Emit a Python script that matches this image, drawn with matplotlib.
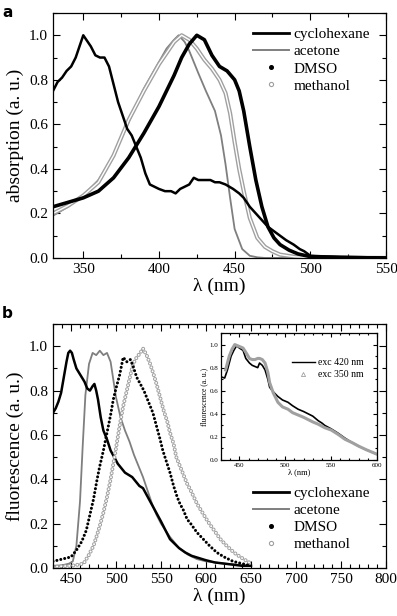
import numpy as np
import matplotlib.pyplot as plt
from matplotlib.lines import Line2D
from matplotlib.ticker import MultipleLocator

plt.rcParams['font.family'] = ['Liberation Serif', 'DejaVu Serif']

# ---- panel a: absorption ----
cyc_a_x = [330, 333, 336, 339, 342, 345, 348, 350, 352, 355, 358, 361, 364, 367, 370, 373, 376, 379, 382,
           385, 388, 391, 394, 397, 400, 404, 408, 411, 414, 417, 420, 423, 426, 430, 434, 437, 440, 444,
           449, 453, 456, 460, 464, 468, 472, 476, 480, 484, 489, 493, 496, 500, 510, 520, 530, 540, 550]
cyc_a_y = [0.75, 0.79, 0.81, 0.84, 0.86, 0.90, 0.96, 1.00, 0.98, 0.95, 0.91, 0.90, 0.90, 0.86, 0.78, 0.70,
           0.64, 0.58, 0.55, 0.50, 0.45, 0.38, 0.33, 0.32, 0.31, 0.30, 0.30, 0.29, 0.31, 0.32, 0.33, 0.36,
           0.35, 0.35, 0.35, 0.34, 0.34, 0.33, 0.31, 0.29, 0.27, 0.23, 0.20, 0.17, 0.14, 0.12, 0.10, 0.08,
           0.06, 0.04, 0.03, 0.01, 0.007, 0.005, 0.004, 0.003, 0.002]

ace_a_x = [330, 340, 350, 360, 370, 380, 390, 400, 405, 410, 413, 417, 420, 426, 431, 437, 441, 444, 447,
           450, 455, 460, 465, 470, 500, 550]
ace_a_y = [0.19, 0.23, 0.28, 0.35, 0.46, 0.61, 0.76, 0.88, 0.94, 0.98, 1.00, 0.97, 0.93, 0.83, 0.75, 0.66,
           0.55, 0.42, 0.27, 0.13, 0.04, 0.01, 0.003, 0.0, 0.0, 0.0]

dmso_a_x = [330, 340, 350, 360, 370, 380, 390, 400, 405, 410, 415, 420, 425, 430, 435, 440, 445, 450, 453,
            456, 460, 464, 468, 472, 476, 480, 486, 492, 500, 520, 550]
dmso_a_y = [0.23, 0.25, 0.27, 0.30, 0.36, 0.45, 0.56, 0.68, 0.75, 0.82, 0.90, 0.96, 1.00, 0.98, 0.91, 0.86,
            0.84, 0.80, 0.75, 0.66, 0.50, 0.35, 0.23, 0.14, 0.09, 0.06, 0.035, 0.018, 0.006, 0.002, 0.0]

met_a_x = [330, 340, 350, 360, 370, 380, 390, 400, 405, 410, 415, 420, 425, 430, 435, 440, 444, 447, 450,
           453, 456, 460, 465, 470, 475, 480, 490, 500, 550]
met_a_y = [0.20, 0.235, 0.28, 0.34, 0.46, 0.62, 0.75, 0.87, 0.92, 0.97, 1.00, 0.98, 0.94, 0.89, 0.85, 0.80,
           0.74, 0.65, 0.52, 0.40, 0.30, 0.18, 0.09, 0.05, 0.03, 0.015, 0.005, 0.002, 0.0]

# ---- panel b: fluorescence ----
cyc_b_x = [430, 433, 436, 439, 442, 445, 447, 449, 451, 453, 456, 459, 462, 465, 468, 471, 474, 476, 478,
           480, 483, 486, 490, 494, 498, 502, 506, 510, 514, 518, 522, 526, 530, 534, 538, 542, 546, 550,
           555, 560, 565, 570, 577, 584, 592, 600, 610, 620, 630, 640, 650]
cyc_b_y = [0.70, 0.72, 0.75, 0.79, 0.86, 0.93, 0.97, 0.98, 0.97, 0.94, 0.90, 0.88, 0.86, 0.84, 0.81, 0.80,
           0.82, 0.83, 0.80, 0.76, 0.68, 0.62, 0.58, 0.53, 0.50, 0.47, 0.45, 0.43, 0.42, 0.41, 0.39, 0.37,
           0.36, 0.33, 0.30, 0.27, 0.24, 0.21, 0.17, 0.13, 0.11, 0.09, 0.07, 0.055, 0.045, 0.035, 0.025,
           0.02, 0.015, 0.01, 0.01]

ace_b_x = [430, 440, 448, 452, 456, 460, 463, 466, 470, 474, 478, 482, 486, 490, 494, 497, 500, 505, 510,
           515, 520, 525, 530, 535, 540, 545, 550, 560, 570, 580, 590, 600, 620, 650]
ace_b_y = [0.01, 0.012, 0.02, 0.03, 0.10, 0.30, 0.55, 0.78, 0.92, 0.97, 0.96, 0.98, 0.96, 0.97, 0.93, 0.85,
           0.77, 0.68, 0.62, 0.57, 0.51, 0.46, 0.41, 0.35, 0.29, 0.24, 0.20, 0.14, 0.09, 0.06, 0.04, 0.03,
           0.02, 0.01]

dmso_b_x = [430, 440, 450, 456, 462, 467, 471, 475, 479, 482, 486, 490, 494, 497, 500, 504, 508, 512, 516,
            519, 523, 527, 531, 534, 538, 541, 545, 549, 552, 556, 560, 564, 568, 571, 575, 579, 583, 590,
            597, 604, 612, 620, 630, 640, 650]
dmso_b_y = [0.03, 0.04, 0.05, 0.08, 0.12, 0.17, 0.24, 0.31, 0.40, 0.46, 0.53, 0.61, 0.69, 0.76, 0.81, 0.87,
            0.95, 0.93, 0.94, 0.91, 0.86, 0.83, 0.80, 0.77, 0.73, 0.70, 0.64, 0.58, 0.53, 0.48, 0.43, 0.37,
            0.32, 0.29, 0.26, 0.22, 0.20, 0.16, 0.13, 0.10, 0.07, 0.05, 0.03, 0.02, 0.01]

met_b_x = [430, 440, 450, 458, 464, 470, 475, 479, 482, 486, 490, 494, 497, 500, 504, 508, 512, 516, 519,
           523, 527, 530, 534, 538, 542, 545, 549, 553, 557, 560, 564, 567, 571, 575, 579, 583, 590, 596,
           602, 609, 616, 623, 631, 638, 646, 650]
met_b_y = [0.005, 0.008, 0.01, 0.015, 0.02, 0.06, 0.10, 0.15, 0.19, 0.25, 0.32, 0.40, 0.47, 0.54, 0.64, 0.73,
           0.80, 0.87, 0.92, 0.95, 0.97, 0.99, 0.96, 0.92, 0.87, 0.83, 0.77, 0.71, 0.66, 0.61, 0.56, 0.50,
           0.46, 0.42, 0.38, 0.35, 0.29, 0.25, 0.21, 0.17, 0.13, 0.10, 0.07, 0.05, 0.03, 0.02]

# ---- inset: cyclohexane, two excitation wavelengths ----
exc420_x = [430, 434, 437, 441, 444, 447, 450, 454, 457, 461, 464, 467, 470, 472, 475, 478, 481, 483, 487,
            492, 497, 503, 508, 514, 520, 525, 530, 536, 540, 543, 550, 558, 565, 573, 580, 588, 594, 600]
exc420_y = [0.72, 0.71, 0.78, 0.90, 0.95, 0.99, 0.97, 0.95, 0.88, 0.84, 0.82, 0.81, 0.80, 0.84, 0.82, 0.78,
            0.70, 0.63, 0.59, 0.55, 0.52, 0.50, 0.47, 0.44, 0.42, 0.40, 0.38, 0.34, 0.32, 0.30, 0.27, 0.23,
            0.19, 0.15, 0.12, 0.09, 0.07, 0.05]
exc350_x = [435, 439, 442, 445, 448, 451, 454, 458, 461, 464, 467, 470, 472, 475, 478, 481, 483, 487, 492,
            497, 503, 508, 514, 520, 525, 530, 536, 543, 550, 558, 565, 573, 580, 588, 594, 600]
exc350_y = [0.78, 0.90, 0.96, 1.00, 0.99, 0.98, 0.97, 0.92, 0.88, 0.87, 0.87, 0.88, 0.88, 0.87, 0.84, 0.76,
            0.67, 0.58, 0.50, 0.46, 0.44, 0.41, 0.39, 0.37, 0.35, 0.33, 0.31, 0.28, 0.26, 0.22, 0.18, 0.15,
            0.12, 0.09, 0.07, 0.05]

names = ['cyclohexane', 'acetone', 'DMSO', 'methanol']
gray = '#7f7f7f'
lightgray = '#a0a0a0'


def style_axes(ax, major_x, minor_x, labelsize, major_len=5, minor_len=3):
    ax.xaxis.set_major_locator(MultipleLocator(major_x))
    ax.xaxis.set_minor_locator(MultipleLocator(minor_x))
    ax.yaxis.set_major_locator(MultipleLocator(0.2))
    ax.yaxis.set_minor_locator(MultipleLocator(0.1))
    ax.tick_params(which='both', direction='in', top=True, right=True, labelsize=labelsize, width=0.8)
    ax.tick_params(which='major', length=major_len)
    ax.tick_params(which='minor', length=minor_len)
    ax.yaxis.set_major_formatter(plt.FuncFormatter(lambda v, p: '%.1f' % v))
    for s in ax.spines.values():
        s.set_linewidth(0.9)


def dots(ax, x, y):
    # filled dots, evenly spaced along the curve
    ax.plot(x, y, color='k', lw=2.2, linestyle=(0, (0.01, 1.3)), dash_capstyle='round')


def rings(ax, x, y):
    # open circles: gray round dots with smaller white dots on top
    ax.plot(x, y, color=lightgray, lw=2.9, linestyle=(0, (0.01, 1.0)), dash_capstyle='round')
    ax.plot(x, y, color='white', lw=1.45, linestyle=(0, (0.02, 2.0)), dash_capstyle='round')


def add_legend(ax, y_top, size=11):
    handles = [Line2D([], [], color='k', lw=2),
               Line2D([], [], color=gray, lw=1.4),
               Line2D([], [], color='k', marker='o', ms=2.6, ls='none'),
               Line2D([], [], color=lightgray, marker='o', ms=3, mfc='white', mew=0.8, ls='none')]
    ax.legend(handles, names, loc='upper left', bbox_to_anchor=(0.60, y_top), frameon=False,
              fontsize=size, handlelength=2.35, handletextpad=0.3, labelspacing=0.22,
              borderpad=0, borderaxespad=0)


def main():
    fig = plt.figure(figsize=(3.97, 6.16), dpi=100)

    # panel a
    ax1 = fig.add_axes([0.1335, 0.5812, 0.8388, 0.3977])
    ax1.plot(ace_a_x, ace_a_y, color=gray, lw=1.3)
    ax1.plot(met_a_x, met_a_y, color=lightgray, lw=3.0)
    ax1.plot(met_a_x, met_a_y, color='white', lw=1.0)
    ax1.plot(dmso_a_x, dmso_a_y, color='k', lw=2.6)
    ax1.plot(cyc_a_x, cyc_a_y, color='k', lw=1.8)
    ax1.set_xlim(330, 550)
    ax1.set_ylim(0, 1.1)
    style_axes(ax1, 50, 25, 11)
    ax1.set_ylabel('absorption (a. u.)', fontsize=14, labelpad=4)
    ax1.set_xlabel('λ (nm)', fontsize=14, labelpad=1)
    add_legend(ax1, 0.94)
    fig.text(0.005, 0.992, 'a', fontsize=11, fontweight='bold', family='DejaVu Sans', va='top')

    # panel b
    ax2 = fig.add_axes([0.1335, 0.0779, 0.8388, 0.396])
    ax2.plot(ace_b_x, ace_b_y, color=gray, lw=1.3)
    ax2.plot(cyc_b_x, cyc_b_y, color='k', lw=1.8)
    rings(ax2, met_b_x, met_b_y)
    dots(ax2, dmso_b_x, dmso_b_y)
    ax2.set_xlim(430, 800)
    ax2.set_ylim(0, 1.1)
    style_axes(ax2, 50, 10, 11)
    ax2.set_ylabel('fluorescence (a. u.)', fontsize=14, labelpad=4)
    ax2.set_xlabel('λ (nm)', fontsize=14, labelpad=1)
    add_legend(ax2, 0.334)
    fig.text(0.005, 0.503, 'b', fontsize=11, fontweight='bold', family='DejaVu Sans', va='top')

    # inset
    ax3 = fig.add_axes([0.5567, 0.2532, 0.393, 0.2062])
    ax3.plot(exc420_x, exc420_y, color='k', lw=1.2)
    ax3.plot(exc350_x, exc350_y, color=lightgray, lw=2.2)
    ax3.set_xlim(430, 600)
    ax3.set_ylim(0, 1.1)
    style_axes(ax3, 50, 10, 5, major_len=3, minor_len=1.5)
    ax3.set_ylabel('fluorescence (a. u.)', fontsize=5.5, labelpad=1)
    ax3.set_xlabel('λ (nm)', fontsize=6, labelpad=0)
    ax3.tick_params(pad=2)
    h = [Line2D([], [], color='k', lw=1),
         Line2D([], [], color=lightgray, marker='^', ms=3, mfc='none', mew=0.6, ls='none')]
    ax3.legend(h, ['exc 420 nm', 'exc 350 nm'], loc='upper left', bbox_to_anchor=(0.453, 0.80),
               frameon=False, fontsize=7, handlelength=2.4, handletextpad=0.3, labelspacing=0.3,
               borderpad=0, borderaxespad=0)

    fig.savefig('out.png', dpi=100)


if __name__ == "__main__":
    main()
